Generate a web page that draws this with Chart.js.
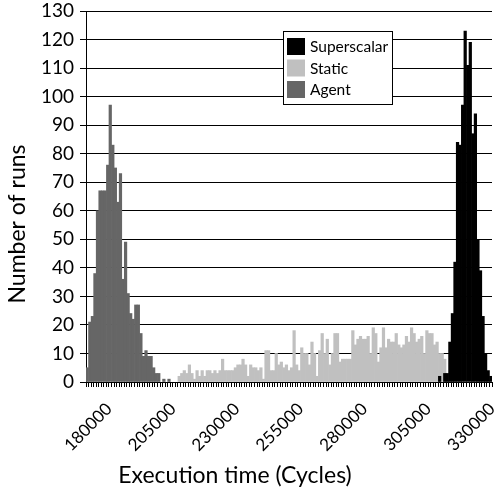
<!DOCTYPE html>
<html><head><meta charset="utf-8">
<script src="https://cdn.jsdelivr.net/npm/chart.js@4.4.0/dist/chart.umd.min.js"></script>
<style>html,body{margin:0;padding:0;background:#fff;overflow:hidden}</style>
</head><body>
<canvas id="c" width="495" height="491"></canvas>
<script>
// ---- data ----
const binWidth = 1000;
const firstBin = 173000;
const lastBin = 331000;
const categories = [];
for (let v = firstBin; v <= lastBin; v += binWidth) categories.push(v);

const xTickLabels = [180000, 205000, 230000, 255000, 280000, 305000, 330000];
const yMin = 0, yMax = 130, yStep = 10;

const seriesNames = ['Superscalar', 'Static', 'Agent'];
const seriesColors = ['#000000', '#c0c0c0', '#666666'];

const superscalarStart = 311000;
const superscalarCounts = [2,0,3,3,14,24,42,84,83,97,123,111,119,87,94,50,39,23,10,4,2];

const staticStart = 209000;
const staticCounts = [2,3,4,3,6,3,1,4,2,4,2,4,4,3,4,3,4,8,4,4,4,4,5,6,6,8,6,2,6,5,
  5,4,5,1,11,11,4,4,10,6,7,5,6,4,5,18,6,4,12,10,10,6,14,10,2,11,17,10,15,6,
  10,17,17,7,8,8,8,8,18,13,15,16,15,15,16,10,19,17,7,12,19,12,15,14,14,17,13,12,13,16,
  14,19,17,14,15,16,10,18,17,17,13,14,10,10,8];

const agentStart = 173000;
const agentCounts = [5,21,23,38,60,67,67,67,76,97,83,75,63,73,36,49,31,24,22,27,27,17,9,11,9,9,5,3,3,0,1,0,1];

function toSeries(start, counts) {
  return categories.map(c => {
    const k = (c - start) / binWidth;
    return (k >= 0 && k < counts.length && counts[k] > 0) ? counts[k] : null;
  });
}
const seriesData = [toSeries(superscalarStart, superscalarCounts), toSeries(staticStart, staticCounts), toSeries(agentStart, agentCounts)];

const FONT = 'Lato, "DejaVu Sans", sans-serif';

const overlay = {
  id: 'overlay',
  afterDraw(chart) {
    const ctx = chart.ctx;
    ctx.save();
    // legend
    const bx = 283.5, by = 31.5, bw = 109, bh = 73;
    ctx.fillStyle = '#fff';
    ctx.fillRect(bx, by, bw, bh);
    ctx.strokeStyle = '#000';
    ctx.lineWidth = 1;
    ctx.strokeRect(bx, by, bw, bh);
    ctx.font = '15.5px ' + FONT;
    ctx.textBaseline = 'middle';
    ctx.textAlign = 'left';
    chart.data.datasets.forEach((ds, i) => {
      const y = 38 + i * 21.5;
      ctx.fillStyle = ds.backgroundColor;
      ctx.fillRect(287, y, 18, 17);
      ctx.fillStyle = '#000';
      ctx.fillText(ds.label, 310, y + 9);
    });
    // axis titles
    ctx.fillStyle = '#000';
    ctx.font = '23px ' + FONT;
    ctx.textAlign = 'center';
    ctx.textBaseline = 'middle';
    ctx.fillText('Execution time (Cycles)', 235, 476);
    ctx.translate(18, 224);
    ctx.rotate(-Math.PI / 2);
    ctx.fillText('Number of runs', 0, 0);
    ctx.restore();
  }
};

new Chart(document.getElementById('c'), {
  type: 'bar',
  data: {
    labels: categories,
    datasets: seriesNames.map((n, i) => ({
      label: n,
      data: seriesData[i],
      backgroundColor: seriesColors[i],
      borderWidth: 0,
      grouped: false,
      categoryPercentage: 1,
      barPercentage: 1
    }))
  },
  options: {
    responsive: false,
    animation: false,
    devicePixelRatio: 1,
    layout: { padding: { left: 0, right: 3, top: 11, bottom: 0 } },
    plugins: { legend: { display: false }, tooltip: { enabled: false } },
    scales: {
      x: {
        type: 'category',
        offset: true,
        grid: { display: true, drawOnChartArea: false, drawTicks: true, tickLength: 5, color: '#000', offset: true },
        border: { display: true, color: '#000', width: 1 },
        ticks: {
          autoSkip: false, minRotation: 45, maxRotation: 45, padding: 12, labelOffset: 4,
          color: '#000', font: { family: FONT, size: 17 },
          callback: function (v) { const l = this.getLabelForValue(v); return xTickLabels.includes(l) ? String(l) : ''; }
        },
        afterFit: s => { s.height = 109; s.paddingLeft = 0; s.paddingRight = 0; }
      },
      y: {
        min: yMin, max: yMax,
        grid: { color: '#000', tickLength: 6, lineWidth: 1 },
        border: { display: true, color: '#000', width: 1 },
        ticks: { stepSize: yStep, padding: 6, color: '#000', font: { family: FONT, size: 19 } },
        afterFit: s => { s.width = 86; s.paddingTop = 0; s.paddingBottom = 0; }
      }
    }
  },
  plugins: [overlay]
});
</script>
</body></html>
